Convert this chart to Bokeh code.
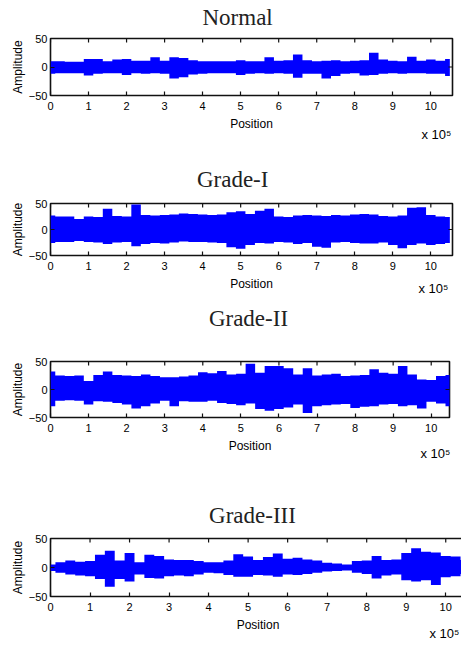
import math
from bokeh.plotting import figure
from bokeh.layouts import column
from bokeh.models import Range1d, FixedTicker, LinearAxis, Title, ColumnDataSource
from bokeh.embed import file_html
from bokeh.resources import INLINE

# ---------------- data (envelopes, x in units of 10^5) ----------------
POSITIONS = [0, 0.25, 0.5, 0.75, 1, 1.25, 1.5, 1.75, 2, 2.25, 2.5, 2.75, 3, 3.25, 3.5,
             3.75, 4, 4.25, 4.5, 4.75, 5, 5.25, 5.5, 5.75, 6, 6.25, 6.5, 6.75, 7, 7.25,
             7.5, 7.75, 8, 8.25, 8.5, 8.75, 9, 9.25, 9.5, 9.75, 10, 10.25, 10.5]

NORMAL_UPPER = [10, 10, 9, 9, 14, 14, 10, 13, 14, 11, 11, 17, 11, 17, 16, 12, 10, 10, 10, 10,
                12, 10, 10, 17, 11, 12, 22, 12, 10, 11, 12, 10, 11, 12, 25, 13, 11, 10, 18, 11,
                13, 11, 14]
NORMAL_LOWER = [-12, -11, -11, -11, -15, -12, -11, -11, -14, -11, -12, -11, -12, -20, -18, -13,
                -12, -11, -11, -11, -14, -12, -11, -12, -11, -12, -19, -12, -12, -20, -16, -12,
                -11, -15, -14, -12, -11, -12, -11, -11, -12, -12, -16]

GRADE1_UPPER = [27, 25, 25, 20, 25, 24, 40, 26, 25, 48, 28, 27, 28, 29, 31, 30, 29, 28, 29, 33,
                35, 30, 36, 40, 25, 24, 27, 28, 27, 26, 28, 27, 29, 30, 29, 26, 25, 27, 42, 43,
                28, 25, 24]
GRADE1_LOWER = [-26, -24, -24, -22, -24, -25, -28, -25, -24, -32, -28, -26, -27, -25, -23, -24,
                -24, -25, -26, -34, -37, -30, -26, -27, -24, -25, -28, -26, -33, -35, -25, -24,
                -26, -27, -27, -25, -30, -36, -30, -27, -30, -28, -26]

GRADE2_UPPER = [32, 25, 24, 25, 15, 26, 32, 26, 25, 24, 27, 24, 22, 22, 23, 25, 31, 29, 33, 27,
                28, 46, 30, 42, 42, 38, 27, 38, 25, 27, 28, 24, 25, 26, 36, 30, 28, 42, 27, 18,
                17, 24, 26]
GRADE2_LOWER = [-30, -20, -19, -20, -27, -21, -22, -24, -27, -34, -30, -25, -20, -30, -21, -22,
                -22, -20, -24, -26, -28, -25, -35, -38, -35, -32, -27, -42, -30, -28, -27, -26,
                -33, -31, -30, -27, -26, -30, -28, -34, -22, -25, -30]

GRADE3_UPPER = [5, 9, 12, 10, 11, 22, 29, 12, 25, 9, 22, 20, 14, 13, 13, 11, 9, 9, 12, 23,
                19, 13, 18, 24, 15, 17, 14, 12, 8, 7, 5, 11, 12, 20, 13, 14, 25, 33, 27, 26,
                20, 19, 13]
GRADE3_LOWER = [-6, -9, -12, -14, -15, -20, -33, -20, -24, -12, -18, -19, -15, -14, -15, -12,
                -9, -10, -13, -16, -16, -13, -14, -16, -12, -13, -11, -9, -7, -6, -5, -9, -11,
                -19, -14, -12, -22, -24, -22, -30, -17, -15, -11]

X_TICKS = [0, 1, 2, 3, 4, 5, 6, 7, 8, 9, 10]
Y_TICKS = [-50, 0, 50]
Y_MIN, Y_MAX = -50, 50
TITLES = ["Normal", "Grade-I", "Grade-II", "Grade-III"]
X_LABEL = "Position"
Y_LABEL = "Amplitude"
MULT_LABEL = "x 10\u2075"

BLUE = "#0000FF"
INK = "#000000"
SANS = "Liberation Sans"
SERIF = "Liberation Serif"


def make_panel(title, upper, lower, x_end, b_left, f_w, b_right, b_top, f_h, b_bottom,
               title_x, title_gap, mult_dx, mult_standoff):
    p = figure(frame_width=f_w, frame_height=f_h,
               x_range=Range1d(0, x_end), y_range=Range1d(Y_MIN, Y_MAX),
               min_border_left=b_left, min_border_right=b_right,
               min_border_top=b_top, min_border_bottom=b_bottom,
               output_backend="svg", toolbar_location=None,
               background_fill_color="white", border_fill_color="white")
    p.xgrid.visible = False
    p.ygrid.visible = False
    p.outline_line_color = "#111111"
    p.outline_line_width = 1.6

    src = ColumnDataSource(dict(x=POSITIONS, up=upper, lo=lower))
    p.varea_step(x="x", y1="lo", y2="up", step_mode="center", source=src,
                 fill_color=BLUE)

    # inward ticks on the top and right edges of the box (markers clipped by the frame)
    p.scatter(x=X_TICKS, y=[Y_MAX] * len(X_TICKS), marker="dash", size=8,
              angle=math.pi / 2, line_color="#111111", line_width=1.2)
    p.scatter(x=[x_end] * len(Y_TICKS), y=Y_TICKS, marker="dash", size=8,
              line_color="#111111", line_width=1.2)

    for ax, lab in ((p.xaxis[0], X_LABEL), (p.yaxis[0], Y_LABEL)):
        ax.major_tick_in = 4
        ax.major_tick_out = 0
        ax.minor_tick_line_color = None
        ax.axis_line_color = None
        ax.major_tick_line_color = "#111111"
        ax.major_tick_line_width = 1.2
        ax.major_label_text_font = SANS
        ax.major_label_text_font_size = "11px"
        ax.major_label_text_color = INK
        ax.axis_label = lab
        ax.axis_label_text_font = SANS
        ax.axis_label_text_font_size = "12px"
        ax.axis_label_text_font_style = "normal"
        ax.axis_label_text_color = INK
    p.xaxis[0].ticker = FixedTicker(ticks=X_TICKS)
    p.yaxis[0].ticker = FixedTicker(ticks=Y_TICKS)
    p.xaxis[0].major_label_standoff = 6
    p.xaxis[0].axis_label_standoff = 4
    p.yaxis[0].major_label_standoff = 3
    p.yaxis[0].axis_label_standoff = 1

    # panel title, drawn as the single label of an otherwise empty top axis
    top = LinearAxis(ticker=FixedTicker(ticks=[title_x]),
                     major_label_overrides={title_x: title},
                     major_tick_in=0, major_tick_out=0, major_tick_line_color=None,
                     minor_tick_in=0, minor_tick_out=0, minor_tick_line_color=None,
                     axis_line_color=None, major_label_standoff=title_gap,
                     major_label_text_font=SERIF, major_label_text_font_size="23px",
                     major_label_text_color="#222222")
    p.add_layout(top, "above")

    mult = Title(text=MULT_LABEL, align="left", offset=mult_dx, standoff=mult_standoff,
                 vertical_align="top", text_font=SANS, text_font_size="13px",
                 text_font_style="normal", text_color=INK)
    p.add_layout(mult, "below")
    return p


p1 = make_panel(TITLES[0], NORMAL_UPPER, NORMAL_LOWER, 10.57, 42, 402, 17, 38, 57, 65,
                4.92, 9, 371, -13)
p2 = make_panel(TITLES[1], GRADE1_UPPER, GRADE1_LOWER, 10.57, 42, 402, 17, 43, 52, 45,
                4.79, 12, 368, -26)
p3 = make_panel(TITLES[2], GRADE2_UPPER, GRADE2_LOWER, 10.48, 50, 399, 12, 61, 56, 53,
                5.2, 31, 370, -20)
p4 = make_panel(TITLES[3], GRADE3_UPPER, GRADE3_LOWER, 10.5, 45, 415, 1, 68, 58, 50,
                5.11, 11, 379, -18)

layout = column(p1, p2, p3, p4, spacing=0)
open("out.html", "w").write(file_html(layout, INLINE))
